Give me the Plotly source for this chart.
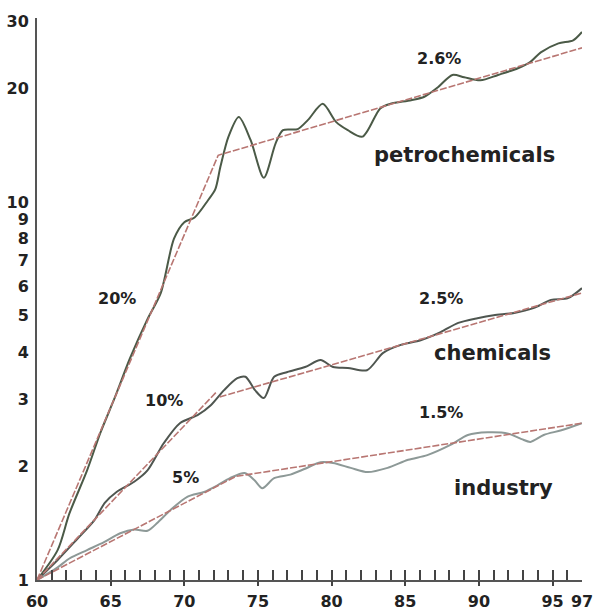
import numpy as np
import plotly.graph_objects as go

# ---- series data (index, 1960 = 1) ----
petro_years = [60, 61.4, 62.2, 63.4, 64.3, 65.3, 66.3, 67.5, 68.4, 69.3, 70.0, 70.7,
               71.6, 72.1, 72.45, 73.0, 73.7, 74.5, 75.4, 76.2, 76.7, 77.7, 78.4,
               79.4, 80.3, 81.1, 82.1, 83.3, 84.0, 85.4, 86.3, 87.2, 88.2, 89.0,
               90.1, 91.3, 92.65, 93.5, 94.2, 95.4, 96.4, 97.0]
petro_values = [1.0, 1.2, 1.5, 1.95, 2.45, 3.05, 3.85, 4.9, 5.74, 8.0, 8.85, 9.1,
                10.1, 10.8, 12.4, 14.9, 16.8, 14.6, 11.6, 14.3, 15.5, 15.6, 16.5,
                18.2, 16.3, 15.5, 14.9, 17.7, 18.2, 18.6, 19.0, 20.1, 21.7, 21.4,
                21.0, 21.7, 22.6, 23.5, 24.9, 26.3, 26.8, 28.2]

chem_years = [60, 61.4, 62.7, 63.9, 64.6, 65.4, 66.6, 67.5, 68.6, 69.7, 70.9, 71.8,
              72.7, 73.6, 74.15, 74.8, 75.4, 76.1, 77.0, 78.2, 79.25, 80.1, 81.1,
              82.4, 83.5, 84.7, 86.05, 87.4, 88.6, 89.9, 91.0, 92.4, 93.7, 94.9,
              96.05, 97.0]
chem_values = [1.0, 1.13, 1.28, 1.44, 1.6, 1.71, 1.82, 1.95, 2.30, 2.60, 2.73, 2.90,
               3.18, 3.42, 3.45, 3.18, 3.03, 3.45, 3.55, 3.66, 3.82, 3.66, 3.64,
               3.59, 3.99, 4.19, 4.31, 4.53, 4.79, 4.93, 5.02, 5.09, 5.24, 5.51,
               5.57, 5.92]

ind_years = [60, 61.4, 62.2, 63.4, 64.55, 65.65, 66.6, 67.5, 68.2, 69.05, 70.2, 71.35,
             72.25, 73.1, 74.1, 74.75, 75.3, 76.1, 77.2, 78.2, 79.25, 80.1, 81.3,
             82.45, 83.8, 85.2, 86.5, 88.1, 89.25, 90.6, 92.0, 92.9, 93.5, 94.4,
             95.6, 97.0]
ind_values = [1.0, 1.08, 1.14, 1.2, 1.26, 1.33, 1.36, 1.35, 1.42, 1.53, 1.66, 1.71,
              1.78, 1.86, 1.92, 1.84, 1.75, 1.86, 1.90, 1.97, 2.05, 2.04, 1.98,
              1.93, 1.98, 2.08, 2.14, 2.28, 2.42, 2.46, 2.44, 2.36, 2.32, 2.42,
              2.49, 2.60]

# ---- trend lines (constant growth segments) ----
petro_trend_years = [60, 72.3, 97]
petro_trend_values = [1.0, 13.3, 25.6]
chem_trend_years = [60, 72.2, None, 72.4, 97]
chem_trend_values = [1.0, 3.15, None, 3.05, 5.75]
ind_trend_years = [60, 73.5, 97]
ind_trend_values = [1.0, 1.88, 2.6]

# ---- axis ticks ----
x_tickvals = [60, 65, 70, 75, 80, 85, 90, 95, 97]
x_ticktext = ["60", "65", "70", "75", "80", "85", "90", "95", "97"]
x_major_marks = [65, 70, 75, 80, 85, 90, 95]
y_tickvals = [1, 2, 3, 4, 5, 6, 7, 8, 9, 10, 20, 30]
y_ticktext = ["1", "2", "3", "4", "5", "6", "7", "8", "9", "10", "20", "30"]

# ---- labels ----
growth_labels = [("20%", 65.45, 5.57), ("10%", 68.65, 2.99), ("5%", 70.1, 1.87),
                 ("2.6%", 87.3, 24.0), ("2.5%", 87.4, 5.57), ("1.5%", 87.4, 2.77)]
series_labels = [("petrochemicals", 89.0, 13.3), ("chemicals", 90.95, 3.98),
                 ("industry", 91.7, 1.75)]

SOLID_DARK = "#4b5a47"
SOLID_MID = "#4f5650"
SOLID_LIGHT = "#8d9997"
TREND = "#b87672"
FONT = "DejaVu Sans"

fig = go.Figure()

for xs, ys, col in [(petro_years, petro_values, SOLID_DARK),
                    (chem_years, chem_values, SOLID_MID),
                    (ind_years, ind_values, SOLID_LIGHT)]:
    fig.add_trace(go.Scatter(x=xs, y=ys, mode="lines",
                             line=dict(color=col, width=2, shape="spline", smoothing=0.8),
                             hoverinfo="skip", showlegend=False))

for i, (xs, ys) in enumerate([(petro_trend_years, petro_trend_values),
                              (chem_trend_years, chem_trend_values),
                              (ind_trend_years, ind_trend_values)]):
    fig.add_trace(go.Scatter(x=xs, y=ys, mode="lines",
                             xaxis="x2" if i == 2 else "x",
                             line=dict(color=TREND, width=1.6, dash="7px,2px"),
                             connectgaps=False, hoverinfo="skip", showlegend=False))

annotations = []
for text, x, y in growth_labels:
    annotations.append(dict(x=x, y=np.log10(y), xref="x", yref="y", text=text,
                            showarrow=False,
                            font=dict(family=FONT, size=16, color="#222", weight="bold")))
for text, x, y in series_labels:
    annotations.append(dict(x=x, y=np.log10(y), xref="x", yref="y", text=text,
                            showarrow=False,
                            font=dict(family=FONT, size=21, color="#222", weight="bold")))

fig.update_layout(
    width=597, height=611,
    margin=dict(l=37, r=15, t=18, b=31, autoexpand=False),
    paper_bgcolor="white", plot_bgcolor="white",
    showlegend=False,
    annotations=annotations,
    xaxis=dict(range=[60, 97], tickvals=x_tickvals, ticktext=x_ticktext,
               ticks="inside", ticklen=10, tickwidth=1.5, tickcolor="#444",
               minor=dict(dtick=1, tick0=60, ticks="inside", ticklen=10,
                          tickwidth=1.5, tickcolor="#444"),
               showline=True, linecolor="#555", linewidth=2,
               showgrid=False, zeroline=False, automargin=False,
               ticklabelstandoff=6,
               tickfont=dict(family=FONT, size=16, color="#222", weight="bold")),
    xaxis2=dict(range=[60, 97], matches="x", overlaying="x", anchor="y", side="bottom",
                tickvals=x_major_marks, ticks="outside", ticklen=5, tickwidth=1.5,
                tickcolor="#444", showticklabels=False, showline=False,
                showgrid=False, zeroline=False, automargin=False),
    yaxis=dict(type="log", range=[0, np.log10(30.7)],
               tickvals=y_tickvals, ticktext=y_ticktext, ticks="",
               showline=True, linecolor="#555", linewidth=2,
               showgrid=False, zeroline=False, ticklabelstandoff=3, automargin=False,
               tickfont=dict(family=FONT, size=16, color="#222", weight="bold")),
)

fig.write_html("out.html")
